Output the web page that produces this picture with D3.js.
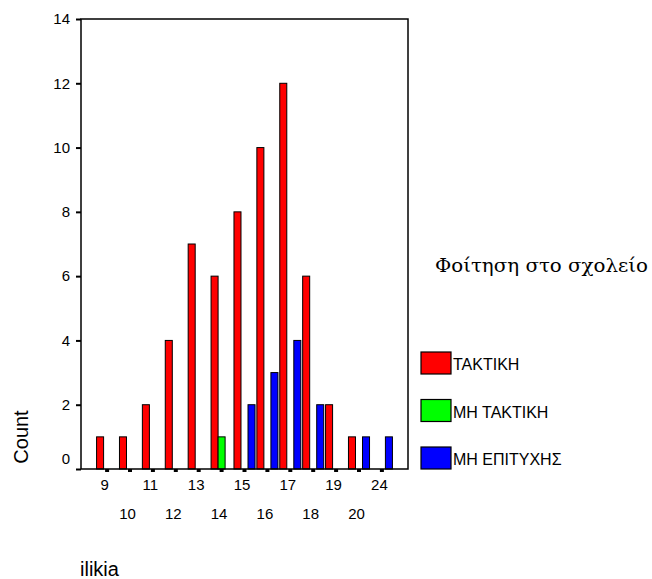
<!DOCTYPE html>
<html>
<head>
<meta charset="utf-8">
<script src="https://cdn.jsdelivr.net/npm/d3@7"></script>
<style>
  html, body { margin: 0; padding: 0; background: #fff; }
  svg { display: block; }
</style>
</head>
<body>
<svg id="chart" width="652" height="579"></svg>
<script>
const categories = ["9","10","11","12","13","14","15","16","17","18","19","20","24"];
const taktiki    = [1, 1, 2, 4, 7, 6, 8, 10, 12, 6, 2, 1, 0];
const miTaktiki  = [0, 0, 0, 0, 0, 1, 0, 0, 0, 0, 0, 0, 0];
const miEpityxis = [0, 0, 0, 0, 0, 0, 2, 3, 4, 2, 0, 1, 1];
const seriesNames = ["ΤΑΚΤΙΚΗ", "ΜΗ ΤΑΚΤΙΚΗ", "ΜΗ ΕΠΙΤΥΧΗΣ"];
const seriesColors = ["#ff0000", "#00ff00", "#0000ff"];
const yTicks = [0, 2, 4, 6, 8, 10, 12, 14];
const legendTitle = "Φοίτηση στο σχολείο";
const yTitle = "Count";
const xTitle = "ilikia";

const seriesValues = [taktiki, miTaktiki, miEpityxis];

const svg = d3.select("#chart");
svg.append("rect").attr("width", 652).attr("height", 579).attr("fill", "#fff");

const L = 81, R = 408, T = 19, B = 469;
const sansFont = "'Liberation Sans', Arial, sans-serif";

const x = d3.scaleBand().domain(categories).range([L, R]).paddingInner(0.08).paddingOuter(0.68);
const xs = d3.scaleBand().domain(d3.range(seriesNames.length)).range([0, x.bandwidth()]);
const y = d3.scaleLinear().domain([0, 14]).range([B, T]);

// bars
const barData = [];
categories.forEach((c, i) => {
  seriesValues.forEach((vals, s) => {
    if (vals[i] > 0) barData.push({ c, s, v: vals[i] });
  });
});
svg.append("g").selectAll("rect").data(barData).join("rect")
  .attr("x", d => x(d.c) + xs(d.s))
  .attr("y", d => y(d.v))
  .attr("width", xs.bandwidth())
  .attr("height", d => y(0) - y(d.v))
  .attr("fill", d => seriesColors[d.s])
  .attr("stroke", "#000")
  .attr("stroke-width", 1);

// frame
svg.append("rect").attr("x", L).attr("y", T).attr("width", R - L).attr("height", B - T)
  .attr("fill", "none").attr("stroke", "#000").attr("stroke-width", 1.5);

// y axis
const yAxis = svg.append("g").attr("transform", `translate(${L},0)`)
  .call(d3.axisLeft(y).tickValues(yTicks).tickSize(5).tickPadding(6).tickFormat(d3.format("d")));
yAxis.select(".domain").remove();
yAxis.selectAll(".tick line").attr("stroke", "#000").attr("stroke-width", 2);
yAxis.selectAll(".tick text")
  .attr("font-family", sansFont).attr("font-size", 15).attr("fill", "#000")
  .attr("dy", d => d === 0 ? "-0.4em" : "0.32em");

// x axis
const xAxis = svg.append("g").attr("transform", `translate(0,${B})`)
  .call(d3.axisBottom(x).tickSize(3).tickPadding(0));
xAxis.select(".domain").remove();
xAxis.selectAll(".tick line").attr("stroke", "#000").attr("stroke-width", 4);
xAxis.selectAll(".tick text")
  .attr("font-family", sansFont).attr("font-size", 15).attr("fill", "#000")
  .attr("dx", -2.5)
  .attr("dy", 0)
  .attr("y", (d, i) => i % 2 === 0 ? 21 : 50);

// axis titles
svg.append("text").attr("transform", "translate(28,437) rotate(-90)")
  .attr("text-anchor", "middle").attr("font-family", sansFont).attr("font-size", 20)
  .text(yTitle);
svg.append("text").attr("x", 80).attr("y", 576)
  .attr("font-family", sansFont).attr("font-size", 20).text(xTitle);

// legend
svg.append("text").attr("x", 435).attr("y", 272)
  .attr("font-family", "'DejaVu Serif', 'Liberation Serif', serif").attr("font-size", 19)
  .attr("textLength", 213).attr("lengthAdjust", "spacingAndGlyphs")
  .text(legendTitle);
const lg = svg.append("g").selectAll("g").data(seriesNames).join("g")
  .attr("transform", (d, i) => `translate(421,${352 + i * 47.5})`);
lg.append("rect").attr("width", 30).attr("height", 22)
  .attr("fill", (d, i) => seriesColors[i]).attr("stroke", "#000").attr("stroke-width", 1.2);
lg.append("text").attr("x", 32).attr("y", 18)
  .attr("font-family", sansFont).attr("font-size", 16).text(d => d);
</script>
</body>
</html>
